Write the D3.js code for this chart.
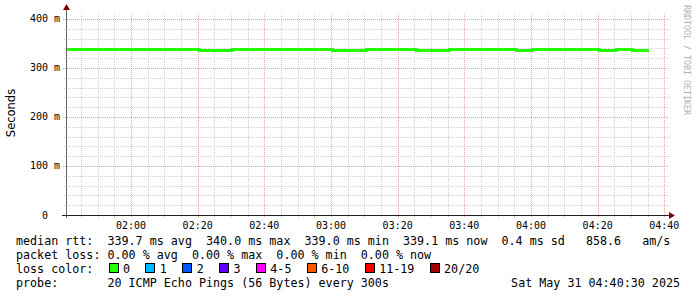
<!DOCTYPE html>
<html>
<head>
<meta charset="utf-8">
<script src="https://cdn.jsdelivr.net/npm/d3@7"></script>
<style>
  body { margin: 0; background: #fff; }
  svg { display: block; }
  text { font-family: "DejaVu Sans Mono", monospace; }
</style>
</head>
<body>
<svg id="chart" width="697" height="297"></svg>
<script>
// median rtt (ms) every 300s, starting 01:40:30
const medianRtt = [
  340.0, 339.9, 340.0, 340.0, 339.9, 340.0, 340.0, 339.9,
  339.2, 339.1,
  340.0, 339.9, 340.0, 340.0, 339.9, 340.0,
  339.1, 339.2,
  339.9, 340.0, 339.9,
  339.2, 339.1,
  340.0, 339.9, 340.0, 339.9,
  339.2,
  339.9, 340.0, 340.0, 339.9,
  339.2,
  339.9,
  339.1
];
const yTicks = [0, 100, 200, 300, 400];
const lossLabels = ["0", "1", "2", "3", "4-5", "6-10", "11-19", "20/20"];
const lossColors = ["#26ff00", "#00b8ff", "#0059ff", "#5e00ff", "#ff00ff", "#ff5500", "#ff0000", "#a10000"];
const legendLines = [
  "median rtt:  339.7 ms avg  340.0 ms max  339.0 ms min  339.1 ms now  0.4 ms sd   858.6   am/s",
  "packet loss: 0.00 % avg  0.00 % max  0.00 % min  0.00 % now",
  "loss color:",
  "probe:       20 ICMP Echo Pings (56 Bytes) every 300s"
];
const stamp = "Sat May 31 04:40:30 2025";

const t0 = new Date(2025, 4, 31, 1, 40, 30);
const t1 = new Date(2025, 4, 31, 4, 40, 30);
const step = 300 * 1000;

// keep runs of spaces in svg text
const nb = s => s.replace(/ /g, "\u00a0");

const svg = d3.select("#chart");
const pLeft = 66, pRight = 666, pTop = 14, pBottom = 215;

const x = d3.scaleTime().domain([t0, t1]).range([pLeft, pRight]);
const y = d3.scaleLinear().domain([0, 410]).range([pBottom, pTop]);

// grid
const minorX = d3.timeMinute.every(5).range(t0, t1);
const majorX = d3.timeMinute.every(20).range(t0, t1);
const minorY = d3.range(20, 410, 20).filter(v => v % 100 !== 0);
const majorY = yTicks.filter(v => v > 0);

const grid = svg.append("g").attr("shape-rendering", "crispEdges").attr("stroke-width", 1);
grid.selectAll(".vx").data(minorX).join("line")
  .attr("x1", d => Math.round(x(d)) + 0.5).attr("x2", d => Math.round(x(d)) + 0.5)
  .attr("y1", pTop).attr("y2", pBottom + 2)
  .attr("stroke", "#cfcfcf").attr("stroke-dasharray", "1,1");
grid.selectAll(".hy").data(minorY).join("line")
  .attr("x1", pLeft - 2).attr("x2", pRight + 3)
  .attr("y1", d => Math.round(y(d)) + 0.5).attr("y2", d => Math.round(y(d)) + 0.5)
  .attr("stroke", "#cfcfcf").attr("stroke-dasharray", "1,1");
grid.selectAll(".vxm").data(majorX).join("line")
  .attr("x1", d => Math.round(x(d)) + 0.5).attr("x2", d => Math.round(x(d)) + 0.5)
  .attr("y1", pTop).attr("y2", pBottom + 3)
  .attr("stroke", "#e8a4a4").attr("stroke-dasharray", "1,1");
grid.selectAll(".hym").data(majorY).join("line")
  .attr("x1", pLeft - 3).attr("x2", pRight + 3)
  .attr("y1", d => Math.round(y(d)) + 0.5).attr("y2", d => Math.round(y(d)) + 0.5)
  .attr("stroke", "#e8a4a4").attr("stroke-dasharray", "1,1");

// median line (rrdtool puts it a bit lower than the ideal y)
const pts = medianRtt.map((v, i) => ({ t: new Date(+t0 + i * step), v }));
pts.push({ t: new Date(+t0 + medianRtt.length * step), v: medianRtt[medianRtt.length - 1] });
const line = d3.line().x(d => x(d.t)).y(d => y(d.v)).curve(d3.curveStepAfter);
svg.append("path").datum(pts)
  .attr("d", line)
  .attr("transform", "translate(0,1.45)")
  .attr("fill", "none")
  .attr("stroke", lossColors[0])
  .attr("stroke-width", 3)
  .attr("shape-rendering", "crispEdges");

// axes
svg.append("line").attr("x1", pLeft + 0.5).attr("x2", pLeft + 0.5)
  .attr("y1", pTop - 4).attr("y2", pBottom + 3)
  .attr("stroke", "#666").attr("shape-rendering", "crispEdges");
svg.append("line").attr("x1", pLeft - 4).attr("x2", pRight + 4)
  .attr("y1", pBottom + 0.5).attr("y2", pBottom + 0.5)
  .attr("stroke", "#222").attr("shape-rendering", "crispEdges");
svg.append("path").attr("d", `M${pLeft - 3},${pTop - 4}L${pLeft + 4},${pTop - 4}L${pLeft + 0.5},${pTop - 10}Z`).attr("fill", "#7f0000");
svg.append("path").attr("d", `M${pRight + 3},${pBottom - 3}L${pRight + 3},${pBottom + 4}L${pRight + 9},${pBottom + 0.5}Z`).attr("fill", "#7f0000");

// tick labels
svg.append("g").selectAll("text").data(majorX).join("text")
  .attr("x", d => x(d)).attr("y", 228.5)
  .attr("text-anchor", "middle").attr("font-size", 10)
  .text(d3.timeFormat("%H:%M"));
svg.append("g").selectAll("text").data(yTicks).join("text")
  .attr("x", 60).attr("y", d => y(d) + 3.5)
  .attr("text-anchor", "end").attr("font-size", 10)
  .text(d => nb(d ? `${d} m` : "0  "));

svg.append("text")
  .attr("transform", "translate(14.5,113) rotate(-90)")
  .attr("text-anchor", "middle")
  .style("font-family", "'DejaVu Sans', sans-serif")
  .attr("font-size", 11.5)
  .text("Seconds");

svg.append("text")
  .attr("transform", "translate(684,5) rotate(90)")
  .attr("font-size", 8.3)
  .attr("fill", "#b0b0b0")
  .text(nb("RRDTOOL / TOBI OETIKER"));

// legend
const fs = 11.7, cw = 7.03;
svg.append("g").selectAll("text").data(legendLines).join("text")
  .attr("x", 16).attr("y", (d, i) => 245 + i * 14)
  .attr("font-size", fs)
  .text(d => nb(d));
svg.append("text").attr("x", 680).attr("y", 287)
  .attr("text-anchor", "end").attr("font-size", fs).text(nb(stamp));

let bx = 108.5;
lossLabels.forEach((lab, i) => {
  svg.append("rect").attr("x", bx + 0.5).attr("y", 263.5).attr("width", 9).attr("height", 9)
    .attr("fill", lossColors[i]).attr("stroke", "#000").attr("stroke-width", 1)
    .attr("shape-rendering", "crispEdges");
  svg.append("text").attr("x", bx + 14.5).attr("y", 273).attr("font-size", fs).text(lab);
  bx += 14.5 + lab.length * cw + 15.3;
});
</script>
</body>
</html>
